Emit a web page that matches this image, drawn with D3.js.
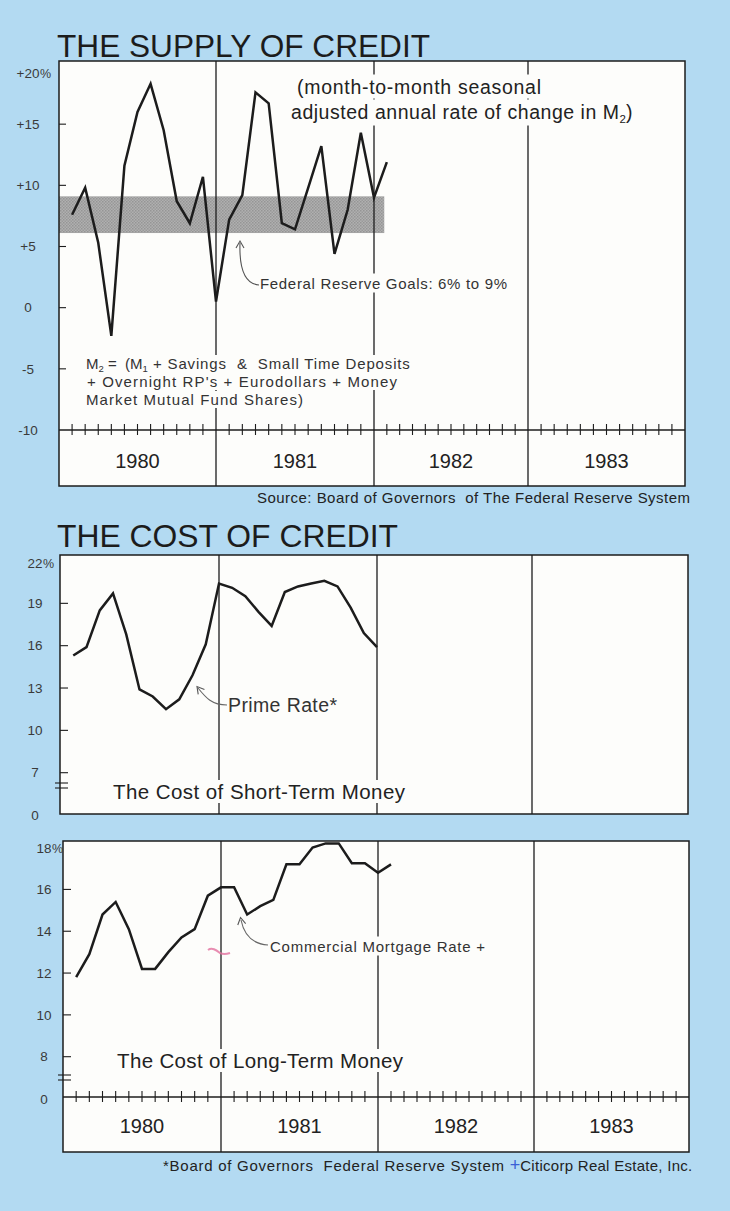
<!DOCTYPE html>
<html><head><meta charset="utf-8">
<script src="https://cdn.jsdelivr.net/npm/d3@7/dist/d3.min.js"></script>
<style>
html,body{margin:0;padding:0;background:#b3daf2;}
svg{display:block;font-family:"Liberation Sans",Arial,Helvetica,sans-serif;}
text{white-space:pre;}
</style></head><body>
<svg id="c" width="730" height="1211"></svg>
<script>
// ---------------- data ----------------
const years = ["1980", "1981", "1982", "1983"];
const yearStartMonths = [0, 12, 24, 36];
const dividerMonths = [12, 24, 36];
const monthTicks = [1,2,3,4,5,6,7,8,9,10,11,13,14,15,16,17,18,19,20,21,22,23,25,26,27,28,29,30,31,32,33,34,35,37,38,39,40,41,42,43,44,45,46,47];

// Supply of credit: M2 annual rate of change, % (end of month, Jan 1980 .. Jan 1982)
const m2Months = [1,2,3,4,5,6,7,8,9,10,11,12,13,14,15,16,17,18,19,20,21,22,23,24,25];
const m2Rate = [7.6, 9.8, 5.3, -2.3, 11.6, 16.0, 18.3, 14.5, 8.7, 6.9, 10.7, 0.5, 7.2, 9.2, 17.6, 16.7, 6.9, 6.4, 9.8, 13.2, 4.4, 8.0, 14.3, 9.0, 11.9];
const fedGoalLow = 6.1, fedGoalHigh = 9.1, fedGoalEndMonth = 24.8;
const m2TickValues = [-10, -5, 0, 5, 10, 15, 20];
const m2TickLabels = ["-10", "-5", "0", "+5", "+10", "+15", "+20"];

// Prime rate, % (Jan 1980 .. Dec 1981)
const primeMonths = [1,2,3,4,5,6,7,8,9,10,11,12,13,14,15,16,17,18,19,20,21,22,23,24];
const primeRate = [15.3, 15.9, 18.5, 19.7, 16.8, 12.9, 12.4, 11.5, 12.2, 13.9, 16.1, 20.4, 20.1, 19.5, 18.4, 17.4, 19.8, 20.2, 20.4, 20.6, 20.2, 18.7, 16.9, 15.9];
const primeTickValues = [0, 7, 10, 13, 16, 19, 22];
const primeTickLabels = ["0", "7", "10", "13", "16", "19", "22"];

// Commercial mortgage rate, % (Jan 1980 .. Jan 1982)
const mortMonths = [1,2,3,4,5,6,7,8,9,10,11,12,13,14,15,16,17,18,19,20,21,22,23,24,25];
const mortRate = [11.8, 12.9, 14.8, 15.4, 14.1, 12.2, 12.2, 13.0, 13.7, 14.1, 15.7, 16.1, 16.1, 14.8, 15.2, 15.5, 17.2, 17.2, 18.0, 18.2, 18.2, 17.25, 17.25, 16.8, 17.2];
const mortTickValues = [0, 8, 10, 12, 14, 16, 18];
const mortTickLabels = ["0", "8", "10", "12", "14", "16", "18"];

// ---------------- drawing ----------------
const svg = d3.select("#c");
const INK = "#1c1c1c";

function arrowHead(g, tip, from, len) {
  const dx = from[0] - tip[0], dy = from[1] - tip[1];
  const d = Math.hypot(dx, dy), ux = dx / d, uy = dy / d;
  const a = Math.PI / 6;
  const p1 = [tip[0] + len * (ux * Math.cos(a) - uy * Math.sin(a)), tip[1] + len * (ux * Math.sin(a) + uy * Math.cos(a))];
  const p2 = [tip[0] + len * (ux * Math.cos(-a) - uy * Math.sin(-a)), tip[1] + len * (ux * Math.sin(-a) + uy * Math.cos(-a))];
  g.append("path").attr("d", `M${p1}L${tip}L${p2}`).attr("fill", "none").attr("stroke", "#555").attr("stroke-width", 1.1);
}
function knock(sel, padX, padY) {
  const n = sel.node(), b = n.getBBox();
  d3.select(n.parentNode).insert("rect", () => n)
    .attr("x", b.x - padX).attr("y", b.y - padY).attr("width", b.width + 2 * padX).attr("height", b.height + 2 * padY)
    .attr("fill", "#fdfdfb");
}
function fit(sel, len) { return sel.attr("textLength", len).attr("lengthAdjust", "spacing"); }
function yearPanel(g, x, axisY, left, right, labelBaseline) {
  g.append("line").attr("x1", left).attr("x2", right).attr("y1", axisY).attr("y2", axisY)
    .attr("stroke", INK).attr("stroke-width", 1.6);
  g.selectAll(".mt").data(monthTicks).join("line")
    .attr("x1", d => x(d)).attr("x2", d => x(d)).attr("y1", axisY - 6).attr("y2", axisY + 5)
    .attr("stroke", INK).attr("stroke-width", 1.1);
  g.selectAll(".yl").data(years).join("text")
    .attr("x", (d, i) => x(yearStartMonths[i] + 6)).attr("y", labelBaseline)
    .attr("text-anchor", "middle").attr("font-size", 20).attr("fill", "#222").text(d => d);
}
function leftTicks(g, y, vals, left, len) {
  g.selectAll(".lt").data(vals).join("line")
    .attr("x1", left).attr("x2", left + len).attr("y1", d => y(d)).attr("y2", d => y(d))
    .attr("stroke", INK).attr("stroke-width", 1.1);
}
function tickLabels(g, y, vals, labels, cx, topVal, botVal, topCenter, botCenter) {
  vals.forEach((v, i) => {
    let cy = y(v);
    if (v === topVal) cy = topCenter;
    if (v === botVal) cy = botCenter;
    const t = g.append("text").attr("x", cx).attr("y", cy + 4.7).attr("text-anchor", "middle")
      .attr("font-size", 13.5).attr("fill", "#3a3a3a").text(labels[i]);
    if (v === topVal) {
      const w = t.node().getComputedTextLength();
      g.append("text").attr("x", cx + w / 2 + 0.5).attr("y", cy + 4.7).attr("font-size", 12.5).attr("fill", "#3a3a3a").text("%");
    }
  });
}

// ===== Chart 1: THE SUPPLY OF CREDIT =====
{
  const g = svg.append("g");
  const left = 59, right = 685, top = 61, axisY = 430, boxBottom = 486;
  const x = d3.scaleLinear().domain([0, 12, 24, 36, 48]).range([59, 216, 374, 528, 685]);
  const y = d3.scaleLinear().domain([-10, 20]).range([430, 63]);

  g.append("text").attr("x", 57).attr("y", 57).attr("font-size", 31).attr("fill", INK)
    .attr("textLength", 373).attr("lengthAdjust", "spacingAndGlyphs").text("THE SUPPLY OF CREDIT");

  g.append("rect").attr("x", left).attr("y", top).attr("width", right - left).attr("height", boxBottom - top).attr("fill", "#fdfdfb");

  const pat = svg.append("defs").append("pattern").attr("id", "dots").attr("patternUnits", "userSpaceOnUse").attr("width", 3).attr("height", 3);
  pat.append("rect").attr("width", 3).attr("height", 3).attr("fill", "#b0b0b0");
  pat.append("rect").attr("width", 1.5).attr("height", 1.5).attr("fill", "#959595");
  pat.append("rect").attr("x", 1.5).attr("y", 1.5).attr("width", 1.5).attr("height", 1.5).attr("fill", "#9a9a9a");
  g.append("rect").attr("x", x(0)).attr("width", x(fedGoalEndMonth) - x(0))
    .attr("y", y(fedGoalHigh)).attr("height", y(fedGoalLow) - y(fedGoalHigh)).attr("fill", "url(#dots)");

  g.selectAll(".dv").data(dividerMonths).join("line")
    .attr("x1", d => x(d)).attr("x2", d => x(d)).attr("y1", top).attr("y2", boxBottom)
    .attr("stroke", INK).attr("stroke-width", 1.3);

  leftTicks(g, y, [15, 10, 5, 0, -5], left, 7);
  yearPanel(g, x, axisY, left, right, 468);

  g.append("path").datum(m2Months.map((m, i) => [m, m2Rate[i]]))
    .attr("d", d3.line().x(d => x(d[0])).y(d => y(d[1])))
    .attr("fill", "none").attr("stroke", INK).attr("stroke-width", 2.5).attr("stroke-linejoin", "miter");

  g.append("rect").attr("x", left).attr("y", top).attr("width", right - left).attr("height", boxBottom - top)
    .attr("fill", "none").attr("stroke", INK).attr("stroke-width", 1.5);

  tickLabels(g, y, m2TickValues, m2TickLabels, 28, 20, -10, 73, 430);

  // note
  const n1 = fit(g.append("text").attr("x", 297).attr("y", 93.5).attr("font-size", 19.5).attr("fill", "#222"), 244).text("(month-to-month seasonal");
  knock(n1, 3, 1);
  const n2 = g.append("text").attr("x", 291).attr("y", 118.5).attr("font-size", 19.5).attr("fill", "#222");
  fit(n2.append("tspan"), 328).text("adjusted annual rate of change in M");
  n2.append("tspan").attr("font-size", 11.5).attr("dy", 4).text("2");
  n2.append("tspan").attr("dy", -4).text(")");
  knock(n2, 3, 1);

  // fed goal annotation
  const ft = fit(g.append("text").attr("x", 260).attr("y", 288.5).attr("font-size", 15).attr("fill", "#333"), 247)
    .text("Federal Reserve Goals: 6% to 9%");
  knock(ft, 2, 1);
  g.append("path").attr("d", "M259,285 C246,284 239,272 240,243").attr("fill", "none").attr("stroke", "#555").attr("stroke-width", 1.1);
  arrowHead(g, [240, 241], [240, 252], 8);

  // M2 definition
  const mLines = g.append("g").attr("font-size", 15).attr("fill", "#333");
  const l1 = mLines.append("text").attr("x", 86).attr("y", 369);
  l1.append("tspan").text("M");
  l1.append("tspan").attr("font-size", 9.5).attr("dy", 3).text("2");
  l1.append("tspan").attr("dy", -3).text(" =  (M");
  l1.append("tspan").attr("font-size", 9.5).attr("dy", 3).text("1");
  fit(l1.append("tspan").attr("dy", -3), 262).text(" + Savings  &  Small Time Deposits");
  knock(l1, 2, 0);
  const l2 = fit(mLines.append("text").attr("x", 87).attr("y", 387), 310).text("+ Overnight RP's + Eurodollars + Money");
  knock(l2, 2, 0);
  const l3 = fit(mLines.append("text").attr("x", 86).attr("y", 405), 217).text("Market Mutual Fund Shares)");
  knock(l3, 2, 0);

  fit(g.append("text").attr("x", 257).attr("y", 503).attr("font-size", 15).attr("fill", "#222"), 433)
    .text("Source: Board of Governors  of The Federal Reserve System");
}

// ===== Chart 2: THE COST OF CREDIT (short-term) =====
{
  const g = svg.append("g");
  const left = 60, right = 688, top = 555, bottom = 814;
  const x = d3.scaleLinear().domain([0, 12, 24, 36, 48]).range([60, 219, 377, 532, 688]);
  const y = d3.scaleLinear().domain([0, 7, 22]).range([814, 772.7, 561]);

  g.append("text").attr("x", 57).attr("y", 547).attr("font-size", 31).attr("fill", INK)
    .attr("textLength", 341).attr("lengthAdjust", "spacingAndGlyphs").text("THE COST OF CREDIT");

  g.append("rect").attr("x", left).attr("y", top).attr("width", right - left).attr("height", bottom - top).attr("fill", "#fdfdfb");
  g.selectAll(".dv").data(dividerMonths).join("line")
    .attr("x1", d => x(d)).attr("x2", d => x(d)).attr("y1", top).attr("y2", bottom)
    .attr("stroke", INK).attr("stroke-width", 1.3);
  leftTicks(g, y, [19, 16, 13, 10, 7], left, 8);

  g.append("path").datum(primeMonths.map((m, i) => [m, primeRate[i]]))
    .attr("d", d3.line().x(d => x(d[0])).y(d => y(d[1])))
    .attr("fill", "none").attr("stroke", INK).attr("stroke-width", 2.5);

  g.append("rect").attr("x", left).attr("y", top).attr("width", right - left).attr("height", bottom - top)
    .attr("fill", "none").attr("stroke", INK).attr("stroke-width", 1.5);
  g.append("line").attr("x1", 55).attr("x2", 68).attr("y1", 783).attr("y2", 783).attr("stroke", INK).attr("stroke-width", 1.1);
  g.append("line").attr("x1", 55).attr("x2", 68).attr("y1", 788).attr("y2", 788).attr("stroke", INK).attr("stroke-width", 1.1);

  tickLabels(g, y, primeTickValues, primeTickLabels, 35, 22, 0, 563, 815);

  fit(g.append("text").attr("x", 228).attr("y", 711.5).attr("font-size", 19.5).attr("fill", "#333"), 109).text("Prime Rate*");
  g.append("path").attr("d", "M227,705 C212,705 206,698 198,688").attr("fill", "none").attr("stroke", "#666").attr("stroke-width", 1.1);
  arrowHead(g, [197, 686.5], [203, 694], 8);

  const st = fit(g.append("text").attr("x", 113).attr("y", 799).attr("font-size", 20.5).attr("fill", "#222"), 292).text("The Cost of Short-Term Money");
  knock(st, 2, 0);
}

// ===== Chart 3: long-term =====
{
  const g = svg.append("g");
  const left = 63, right = 689, top = 841, axisY = 1097, boxBottom = 1152;
  const x = d3.scaleLinear().domain([0, 12, 24, 36, 48]).range([63, 221, 378, 534, 689]);
  const y = d3.scaleLinear().domain([0, 8, 18]).range([1097, 1056.7, 847.6]);

  g.append("rect").attr("x", left).attr("y", top).attr("width", right - left).attr("height", boxBottom - top).attr("fill", "#fdfdfb");
  g.selectAll(".dv").data(dividerMonths).join("line")
    .attr("x1", d => x(d)).attr("x2", d => x(d)).attr("y1", top).attr("y2", boxBottom)
    .attr("stroke", INK).attr("stroke-width", 1.3);
  leftTicks(g, y, [16, 14, 12, 10, 8], left, 8);
  yearPanel(g, x, axisY, left, right, 1133);

  // stray pink mark on the original print
  g.append("path").attr("d", "M208,950 c4,-3 8,0 12,3 c4,2 7,1 10,0").attr("fill", "none").attr("stroke", "#e2709f").attr("stroke-width", 2).attr("opacity", 0.8);

  g.append("path").datum(mortMonths.map((m, i) => [m, mortRate[i]]))
    .attr("d", d3.line().x(d => x(d[0])).y(d => y(d[1])))
    .attr("fill", "none").attr("stroke", INK).attr("stroke-width", 2.5);

  g.append("rect").attr("x", left).attr("y", top).attr("width", right - left).attr("height", boxBottom - top)
    .attr("fill", "none").attr("stroke", INK).attr("stroke-width", 1.5);
  g.append("line").attr("x1", 58).attr("x2", 71).attr("y1", 1075).attr("y2", 1075).attr("stroke", INK).attr("stroke-width", 1.1);
  g.append("line").attr("x1", 58).attr("x2", 71).attr("y1", 1080).attr("y2", 1080).attr("stroke", INK).attr("stroke-width", 1.1);

  tickLabels(g, y, mortTickValues, mortTickLabels, 44, 18, 0, 848, 1099);

  const ct = fit(g.append("text").attr("x", 270).attr("y", 951.5).attr("font-size", 15).attr("fill", "#333"), 215).text("Commercial Mortgage Rate +");
  knock(ct, 2, 1);
  g.append("path").attr("d", "M268,945 C252,944 244,935 241,920").attr("fill", "none").attr("stroke", "#666").attr("stroke-width", 1.1);
  arrowHead(g, [240.5, 917.5], [242, 926], 8);

  const lt = fit(g.append("text").attr("x", 117).attr("y", 1068).attr("font-size", 20.5).attr("fill", "#222"), 286).text("The Cost of Long-Term Money");
  knock(lt, 2, 0);

  const fn = g.append("text").attr("x", 163).attr("y", 1171).attr("font-size", 15).attr("fill", "#222");
  fit(fn.append("tspan"), 346).text("*Board of Governors  Federal Reserve System ");
  fn.append("tspan").attr("fill", "#3b5fd6").attr("font-size", 18).text("+");
  fit(fn.append("tspan"), 172).text("Citicorp Real Estate, Inc.");
}
</script>
</body></html>
